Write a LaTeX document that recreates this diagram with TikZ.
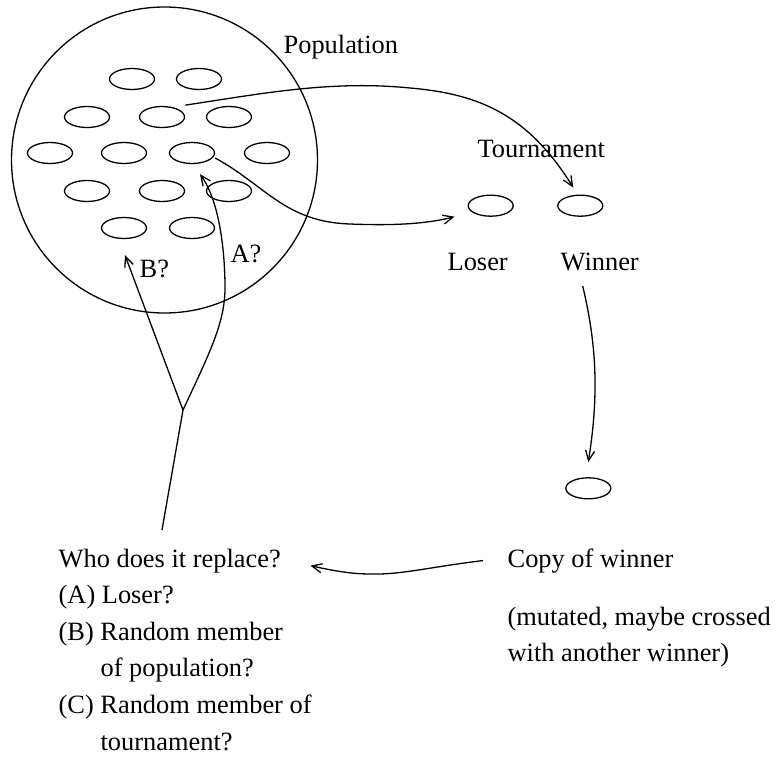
\documentclass[tikz,border=0pt]{standalone}
\usepackage{fontspec}
\setmainfont{Liberation Serif}
\usetikzlibrary{shapes.geometric,arrows.meta}
\begin{document}
\begin{tikzpicture}[x=0.5pt,y=-0.5pt,
  line width=0.65pt,
  cell/.style={draw,ellipse,minimum width=22.5pt,minimum height=10.5pt,inner sep=0pt},
  lbl/.style={font=\fontsize{13.2}{16}\selectfont,inner sep=0pt,anchor=base west},
  arr/.style={-{Straight Barb[length=5pt,width=4.5pt]}}]
\useasboundingbox (0,0) rectangle (776,760);
% population circle
\node[draw,circle,minimum size=153pt,inner sep=0pt] (pop) at (164.5,160) {};
% individuals
\node[cell] (e11) at (132,79) {};
\node[cell] (e12) at (199,79) {};
\node[cell] (e21) at (87,117) {};
\node[cell] (e22) at (162,117) {};
\node[cell] (e23) at (229,117) {};
\node[cell] (e31) at (50,153) {};
\node[cell] (e32) at (124,153) {};
\node[cell] (e33) at (192,153) {};
\node[cell] (e34) at (267,153) {};
\node[cell] (e41) at (87,191) {};
\node[cell] (e42) at (162,191) {};
\node[cell] (e43) at (229,191) {};
\node[cell] (e51) at (124,228) {};
\node[cell] (e52) at (192,228) {};
% tournament
\node[cell] (los) at (490.7,205.7) {};
\node[cell] (win) at (580.3,205.7) {};
\node[cell] (copy) at (588.3,488.3) {};
% labels
\node[lbl] (tpop) at (283,53) {Population};
\node[lbl] (ttour) at (477,157) {Tournament};
\node[lbl] (tlos) at (447,270) {Loser};
\node[lbl] (twin) at (560,270) {Winner};
\node[lbl] (ta) at (230,262) {A?};
\node[lbl] (tb) at (139,277) {B?};
\node[lbl] (cow) at (507,567) {Copy of winner};
\node[lbl] (mut1) at (507,625) {(mutated, maybe crossed};
\node[lbl] (mut2) at (507,661) {with another winner)};
\node[lbl] (who) at (58,567) {Who does it replace?};
\node[lbl] (la) at (58,603.6) {(A) Loser?};
\node[lbl] (lb) at (58,640.2) {(B) Random member};
\node[lbl] (lb2) at (100,676.8) {of population?};
\node[lbl] (lc) at (58,713.4) {(C) Random member of};
\node[lbl] (lc2) at (100,750) {tournament?};
% coordinates
\coordinate (fork) at (183,410);
\coordinate (stem) at (162,530);
% connectors
\draw[arr] ([xshift=3.5pt,yshift=2pt]e22.north east) .. controls (260,94) and (330,80) .. (410,88)
  .. controls (480,94) and (528,115) .. ([xshift=-3.5pt,yshift=3.5pt]win.north);
\draw[arr] ([yshift=-2.5pt]e33.east) .. controls (265,185) and (285,222) .. (350,224)
  .. controls (400,226) and (430,223) .. ([xshift=-6.5pt,yshift=-5.5pt]los.west);
\draw (stem) -- (fork);
\draw[arr] (fork) -- ([xshift=0.5pt,yshift=-8pt]e51.south);
\draw[arr] (fork) .. controls (212,348) and (226,320) .. (225,283)
  .. controls (224,232) and (215,195) .. ([xshift=4pt,yshift=-5pt]e33.south);
\draw[arr] ([xshift=-8.5pt,yshift=-7.5pt]twin.south) .. controls (598,350) and (598,400) .. ([yshift=7.5pt]copy.north);
\draw[arr] ([xshift=-12pt]cow.west) .. controls (430,567) and (400,575) .. (370,574)
  .. controls (350,574) and (330,570) .. ([xshift=14.5pt,yshift=-2.5pt]who.east);
\end{tikzpicture}
\end{document}
